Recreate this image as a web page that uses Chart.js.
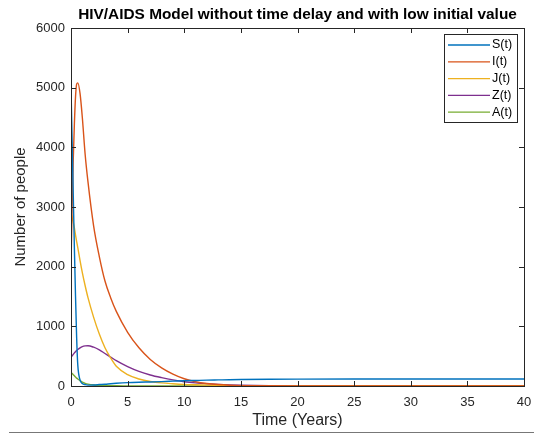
<!DOCTYPE html>
<html>
<head>
<meta charset="utf-8">
<script src="https://cdn.jsdelivr.net/npm/chart.js@4/dist/chart.umd.min.js"></script>
<style>
html,body{margin:0;padding:0;background:#fff;}
#wrap{position:relative;width:534px;height:435px;}
#rule{position:absolute;left:9px;top:432px;width:525px;height:1px;background:#777;}
</style>
</head>
<body>
<div id="wrap">
<canvas id="c" width="534" height="435"></canvas>
<div id="rule"></div>
</div>
<script>
const chartTitle = 'HIV/AIDS Model without time delay and with low initial value';
const xTitle = 'Time (Years)';
const yTitle = 'Number of people';
const seriesNames = ['S(t)', 'I(t)', 'J(t)', 'Z(t)', 'A(t)'];
const seriesColors = ['#0072BD', '#D95319', '#EDB120', '#7E2F8E', '#77AC30'];

const times = [0,0.1,0.2,0.3,0.4,0.5,0.6,0.8,1,1.25,1.5,2,2.5,3,3.5,4,5,6,7,8,9,10,11,12,13,14,15,17.5,20,25,30,35,40];
const S = [5000,4100,3200,2300,1500,800,350,100,40,22,15,18,24,30,38,45,56,63,68,74,81,88,93,98,102,106,109,113,115,117,118,118,118];
const I = [2000,3000,3800,4400,4850,5060,5080,4900,4500,3880,3420,2680,2170,1760,1480,1250,900,640,445,305,200,122,72,42,24,13,7,3,1,0,0,0,0];
const J = [2900,2820,2740,2650,2530,2420,2320,2100,1900,1680,1480,1150,870,640,470,330,190,118,76,52,38,27,20,14,10,7,5,2,1,0,0,0,0];
const Z = [480,505,530,555,575,595,612,640,660,672,675,650,605,545,485,425,325,245,185,140,102,72,52,38,27,19,13,6,3,1,0,0,0];
const A = [230,210,190,170,150,132,118,90,65,45,32,17,10,6,4,3,2,1,0,0,0,0,0,0,0,0,0,0,0,0,0,0,0];

const seriesValues = [S, I, J, Z, A];
const FONT = "'Liberation Sans', Arial, Helvetica, sans-serif";
const AXIS_COLOR = '#262626';

const datasets = seriesValues.map((vals, k) => ({
  label: seriesNames[k],
  data: times.map((t, i) => ({x: t, y: vals[i]})),
  borderColor: seriesColors[k],
  backgroundColor: seriesColors[k],
  borderWidth: 1.4,
  pointRadius: 0,
  fill: false,
  cubicInterpolationMode: 'monotone'
}));

const boxPlugin = {
  id: 'matlabBox',
  afterDatasetsDraw(chart) {
    const {ctx, chartArea: a, scales} = chart;
    ctx.save();
    ctx.strokeStyle = AXIS_COLOR;
    ctx.lineWidth = 1;
    const len = 5;
    scales.x.ticks.forEach(t => {
      const px = Math.round(scales.x.getPixelForValue(t.value)) + 0.5;
      ctx.beginPath();
      ctx.moveTo(px, a.bottom); ctx.lineTo(px, a.bottom - len);
      ctx.moveTo(px, a.top); ctx.lineTo(px, a.top + len);
      ctx.stroke();
    });
    scales.y.ticks.forEach(t => {
      const py = Math.round(scales.y.getPixelForValue(t.value)) + 0.5;
      ctx.beginPath();
      ctx.moveTo(a.left, py); ctx.lineTo(a.left + len, py);
      ctx.moveTo(a.right, py); ctx.lineTo(a.right - len, py);
      ctx.stroke();
    });
    ctx.strokeRect(Math.round(a.left) + 0.5, Math.round(a.top) + 0.5,
                   Math.round(a.right - a.left), Math.round(a.bottom - a.top));

    // title centred over the plot area
    ctx.fillStyle = '#000';
    ctx.font = 'bold 15.4px ' + FONT;
    ctx.textAlign = 'center';
    ctx.textBaseline = 'middle';
    ctx.fillText(chartTitle, (a.left + a.right) / 2, 15);

    // legend
    const lx = 444, ly = 34, lw = 73, lh = 88, row = 16.8;
    ctx.fillStyle = '#fff';
    ctx.fillRect(lx, ly, lw, lh);
    ctx.strokeStyle = AXIS_COLOR;
    ctx.lineWidth = 1;
    ctx.strokeRect(lx + 0.5, ly + 0.5, lw, lh);
    ctx.font = '12.5px ' + FONT;
    ctx.textBaseline = 'middle';
    ctx.textAlign = 'left';
    chart.data.datasets.forEach((ds, i) => {
      const y = ly + 11 + i * row;
      ctx.strokeStyle = ds.borderColor;
      ctx.lineWidth = 1.3;
      ctx.beginPath();
      ctx.moveTo(lx + 4, y); ctx.lineTo(lx + 46, y);
      ctx.stroke();
      ctx.fillStyle = '#000';
      ctx.fillText(ds.label, lx + 48, y);
    });
    ctx.restore();
  }
};

new Chart(document.getElementById('c'), {
  type: 'line',
  data: {datasets},
  plugins: [boxPlugin],
  options: {
    responsive: false,
    animation: false,
    layout: {padding: {left: 0, right: 0, top: 28, bottom: 0}},
    plugins: {
      legend: {display: false},
      tooltip: {enabled: false},
      title: {display: false}
    },
    scales: {
      x: {
        type: 'linear',
        min: 0, max: 40,
        grid: {display: false, drawTicks: false},
        border: {display: false},
        ticks: {stepSize: 5, padding: 9, color: AXIS_COLOR, font: {family: FONT, size: 13}, maxRotation: 0,
                callback: v => String(v)},
        title: {display: true, text: xTitle, color: AXIS_COLOR, font: {family: FONT, size: 16}, padding: {top: 0, bottom: 5}},
        afterFit(s) { s.height = 49; s.paddingRight = 10; s.paddingLeft = 0; }
      },
      y: {
        type: 'linear',
        min: 0, max: 6000,
        grid: {display: false, drawTicks: false},
        border: {display: false},
        ticks: {stepSize: 1000, padding: 6, color: AXIS_COLOR, font: {family: FONT, size: 13},
                callback: v => String(v)},
        title: {display: true, text: yTitle, color: AXIS_COLOR, font: {family: FONT, size: 15}, padding: {top: 11.5, bottom: 0}},
        afterFit(s) { s.width = 71; s.paddingTop = 0; s.paddingBottom = 0; }
      }
    }
  }
});
</script>
</body>
</html>
